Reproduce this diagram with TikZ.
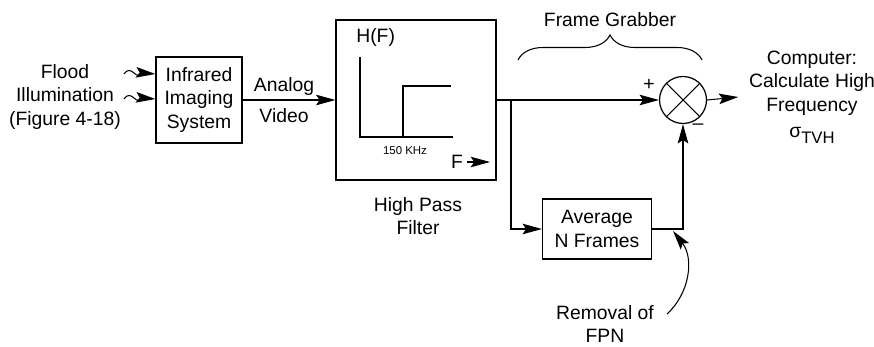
\documentclass[tikz,border=0pt]{standalone}
\usepackage{fontspec}
\setmainfont{Liberation Sans}
\usetikzlibrary{positioning,arrows.meta,decorations.pathreplacing}

\begin{document}
\begin{tikzpicture}[
    x=0.02cm, y=-0.02cm,
    box/.style={draw, line width=0.7pt, inner sep=0pt, align=center},
    lbl/.style={align=center, font=\fontsize{11}{13.5}\selectfont},
    arr/.style={-{Stealth[length=11pt, width=6pt, inset=2pt]}, line width=0.6pt},
    node distance=0.3cm
]
\useasboundingbox (0,0) rectangle (874,347);

% blocks
\node[box, lbl, minimum width=1.72cm, minimum height=1.72cm] (irsys) at (199,100) {Infrared\\Imaging\\System};
\node[box, minimum width=3.2cm, minimum height=3.2cm] (hpf) at (416,100) {};
\node[box, lbl, minimum width=2.18cm, minimum height=1.2cm] (avg) at (597,229) {Average\\N Frames};
\node[draw, circle, line width=0.7pt, minimum size=0.94cm, inner sep=0pt] (sum) at (683,100) {};
\draw[line width=0.6pt] (sum.north west) -- (sum.south east);
\draw[line width=0.6pt] (sum.north east) -- (sum.south west);

% labels
\node[lbl] (flood) at (65,97) {Flood\\Illumination\\(Figure 4-18)};
\node[lbl] (video) at (284,100) {Analog\\[4pt]Video};
\node[lbl] (hpflbl) at (418,216) {High Pass\\Filter};
\node[lbl, inner xsep=6pt] (comp) at (812,97) {Computer:\\Calculate High\\Frequency\\[1pt]σ\raisebox{-0.6ex}{\fontsize{9.5}{9.5}\selectfont TVH}};
\node[lbl] (fpn) at (605,324) {Removal of\\FPN};
\node[lbl] (plus) at (649,85) {+};
\node[lbl] (minus) at (698,127) {--};

% filter response
\node[lbl, anchor=west, inner sep=0pt] (hf) at (356,38) {H(F)};
\draw[line width=0.6pt] (360,57) -- (360,137) -- (453,137);
\draw[line width=0.6pt] (403,137) -- (403,86) -- (451,86);
\node[font=\fontsize{6.5}{8}\selectfont] (khz) at (405,151) {150 KHz};
\node[lbl, inner sep=0pt] (faxis) at (457,162) {F};
\coordinate (ftip) at (490,162);
\draw[arr] (faxis.east) ++(4,0) -- (ftip);

% wavy inputs
\coordinate (w1) at (124,74);
\coordinate (w2) at (124,99);
\draw[arr] (w1) .. controls (127,69) and (131,70) .. (134,73) .. controls (137,76) and (141,77) .. (144,73) -- (irsys.west |- w1);
\draw[arr] (w2) .. controls (127,94) and (131,95) .. (134,98) .. controls (137,101) and (141,102) .. (144,98) -- (irsys.west |- w2);

% connectors
\coordinate (br) at (511,100);
\draw[arr] (irsys.east) -- (hpf.west);
\draw[arr] (hpf.east) -- (sum.west);
\draw[arr] (br) |- (avg.west);
\draw[arr] (avg.east) -| (sum.south);
\draw[arr] (sum.east) -- (comp.west);

% frame grabber brace
\coordinate (gl) at (518,60);
\coordinate (gr) at (702,60);
\draw[line width=0.6pt, decorate, decoration={brace, amplitude=0.5cm}] (gl) -- (gr);
\node[lbl] (grab) at (610,20) {Frame Grabber};

% removal of FPN
\coordinate (fpnstart) at (667,314);
\coordinate (fpnend) at (673,231);
\draw[arr] (fpnstart) .. controls (690,293) and (694,258) .. (fpnend);
\end{tikzpicture}
\end{document}
